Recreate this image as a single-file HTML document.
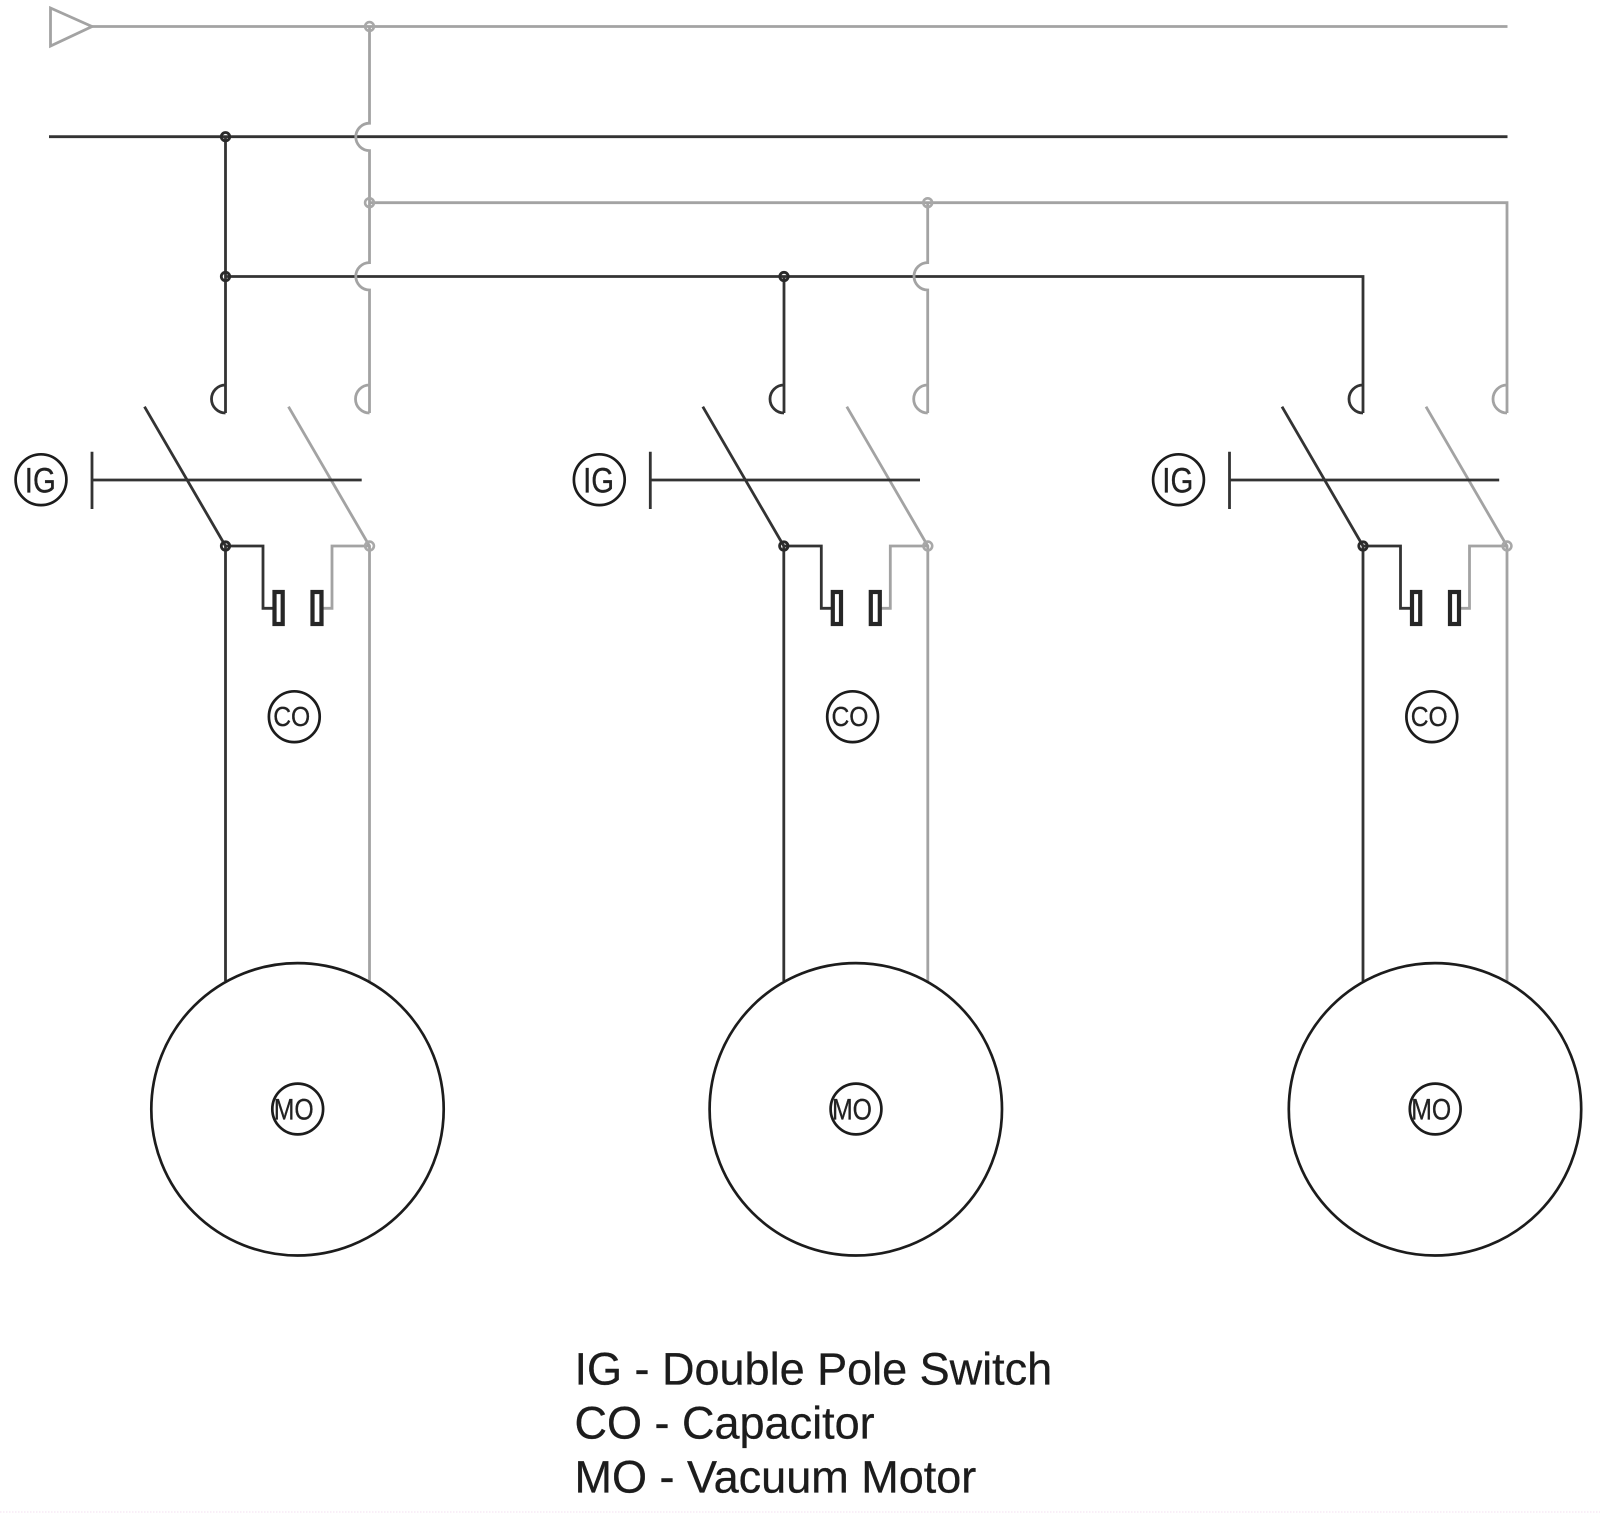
<!DOCTYPE html>
<html>
<head>
<meta charset="utf-8">
<title>Vacuum Motor Wiring Diagram</title>
<style>
html,body{margin:0;padding:0;background:#fff;width:1600px;height:1513px;overflow:hidden}
svg{display:block}
.k{fill:none;stroke:#333;stroke-width:2.8}
.g{fill:none;stroke:#a3a3a3;stroke-width:2.8}
.ring{fill:#fff;stroke:#1c1c1c;stroke-width:2.7}
.j{fill:none;stroke:#2a2a2a;stroke-width:2.8}
.jg{fill:none;stroke:#a8a8a8;stroke-width:2.6}
.cap{fill:#fff;stroke:#262626;stroke-width:4.2}
.t{font-family:"Liberation Sans",sans-serif;fill:#222;text-anchor:middle;stroke:#222;stroke-width:.3}
.leg{font-family:"Liberation Sans",sans-serif;font-size:45px;fill:#1c1c1c;stroke:#1c1c1c;stroke-width:.3}
</style>
</head>
<body>
<svg width="1600" height="1513" viewBox="0 0 1600 1513" xmlns="http://www.w3.org/2000/svg">
<rect width="1600" height="1513" fill="#fff"/>
<line x1="0" y1="1512" x2="1600" y2="1512" stroke="#f3dff0" stroke-width="1" stroke-dasharray="1.5 1.5"/>

<!-- buses -->
<path class="k" d="M49 136.7H1507.5"/>
<path class="k" d="M225.5 276.5H1363V413"/>
<path class="k" d="M225.5 136.7V413"/>
<path class="k" d="M784 276.5V413"/>
<path class="k" d="M225.5 385A14 14 0 0 0 225.5 413"/>
<path class="k" d="M784 385A14 14 0 0 0 784 413"/>
<path class="k" d="M1363 385A14 14 0 0 0 1363 413"/>

<path class="g" d="M50.5 8V46L92 26.5Z"/>
<path class="g" d="M92 26.5H1507.5"/>
<path class="g" d="M369.5 26.5V123.2A13.7 13.7 0 0 0 369.5 150.6V262.6A13.7 13.7 0 0 0 369.5 290V413"/>
<path class="g" d="M369.5 202.7H1507V413"/>
<path class="g" d="M927.7 202.7V262.6A13.7 13.7 0 0 0 927.7 290V413"/>
<path class="g" d="M369.5 385A14 14 0 0 0 369.5 413"/>
<path class="g" d="M927.7 385A14 14 0 0 0 927.7 413"/>
<path class="g" d="M1507 385A14 14 0 0 0 1507 413"/>

<circle class="jg" cx="369.5" cy="26.5" r="4.4"/>
<circle class="jg" cx="369.5" cy="202.7" r="4.4"/>
<circle class="jg" cx="927.7" cy="202.7" r="4.4"/>
<circle class="j" cx="225.5" cy="136.7" r="4.2"/>
<circle class="j" cx="225.5" cy="276.5" r="4.2"/>
<circle class="j" cx="784" cy="276.5" r="4.2"/>

<!-- column 1 -->
<g>
<path class="k" d="M144.5 406.7L225.5 546V981"/>
<path class="g" d="M288.5 406.7L369.5 546V981"/>
<path class="k" d="M92 451.7V509M92 480H361.7"/>
<path class="k" d="M225.5 546H263V608.3H274"/>
<path class="g" d="M369.5 546H332V608.3H322"/>
<rect class="cap" x="274.5" y="592" width="8.2" height="32"/>
<rect class="cap" x="312.5" y="592" width="9" height="32"/>
<circle class="j" cx="225.5" cy="546" r="4.2"/>
<circle class="jg" cx="369.5" cy="546" r="4.4"/>
<circle class="ring" cx="41" cy="479.7" r="25.4"/>
<text class="t" x="40.3" y="492.7" font-size="35" textLength="31" lengthAdjust="spacingAndGlyphs">IG</text>
<circle class="ring" cx="294.3" cy="716.7" r="25.4"/>
<text class="t" x="291.7" y="726" font-size="28" textLength="37" lengthAdjust="spacingAndGlyphs">CO</text>
<circle class="ring" cx="297.5" cy="1109.3" r="146.2"/>
<circle class="ring" cx="297.7" cy="1109" r="25.4"/>
<text class="t" x="293.7" y="1119.3" font-size="30" textLength="40" lengthAdjust="spacingAndGlyphs">MO</text>
</g>

<!-- column 2 -->
<g transform="translate(558.3 0)">
<path class="k" d="M144.5 406.7L225.5 546V981"/>
<path class="g" d="M288.5 406.7L369.5 546V981"/>
<path class="k" d="M92 451.7V509M92 480H361.7"/>
<path class="k" d="M225.5 546H263V608.3H274"/>
<path class="g" d="M369.5 546H332V608.3H322"/>
<rect class="cap" x="274.5" y="592" width="8.2" height="32"/>
<rect class="cap" x="312.5" y="592" width="9" height="32"/>
<circle class="j" cx="225.5" cy="546" r="4.2"/>
<circle class="jg" cx="369.5" cy="546" r="4.4"/>
<circle class="ring" cx="41" cy="479.7" r="25.4"/>
<text class="t" x="40.3" y="492.7" font-size="35" textLength="31" lengthAdjust="spacingAndGlyphs">IG</text>
<circle class="ring" cx="294.3" cy="716.7" r="25.4"/>
<text class="t" x="291.7" y="726" font-size="28" textLength="37" lengthAdjust="spacingAndGlyphs">CO</text>
<circle class="ring" cx="297.5" cy="1109.3" r="146.2"/>
<circle class="ring" cx="297.7" cy="1109" r="25.4"/>
<text class="t" x="293.7" y="1119.3" font-size="30" textLength="40" lengthAdjust="spacingAndGlyphs">MO</text>
</g>

<!-- column 3 -->
<g transform="translate(1137.5 0)">
<path class="k" d="M144.5 406.7L225.5 546V981"/>
<path class="g" d="M288.5 406.7L369.5 546V981"/>
<path class="k" d="M92 451.7V509M92 480H361.7"/>
<path class="k" d="M225.5 546H263V608.3H274"/>
<path class="g" d="M369.5 546H332V608.3H322"/>
<rect class="cap" x="274.5" y="592" width="8.2" height="32"/>
<rect class="cap" x="312.5" y="592" width="9" height="32"/>
<circle class="j" cx="225.5" cy="546" r="4.2"/>
<circle class="jg" cx="369.5" cy="546" r="4.4"/>
<circle class="ring" cx="41" cy="479.7" r="25.4"/>
<text class="t" x="40.3" y="492.7" font-size="35" textLength="31" lengthAdjust="spacingAndGlyphs">IG</text>
<circle class="ring" cx="294.3" cy="716.7" r="25.4"/>
<text class="t" x="291.7" y="726" font-size="28" textLength="37" lengthAdjust="spacingAndGlyphs">CO</text>
<circle class="ring" cx="297.5" cy="1109.3" r="146.2"/>
<circle class="ring" cx="297.7" cy="1109" r="25.4"/>
<text class="t" x="293.7" y="1119.3" font-size="30" textLength="40" lengthAdjust="spacingAndGlyphs">MO</text>
</g>

<!-- legend -->
<text class="leg" x="574.5" y="1384.3">IG - Double Pole Switch</text>
<text class="leg" x="574.5" y="1438.3">CO - Capacitor</text>
<text class="leg" x="574.5" y="1492.7">MO - Vacuum Motor</text>
</svg>
</body>
</html>
